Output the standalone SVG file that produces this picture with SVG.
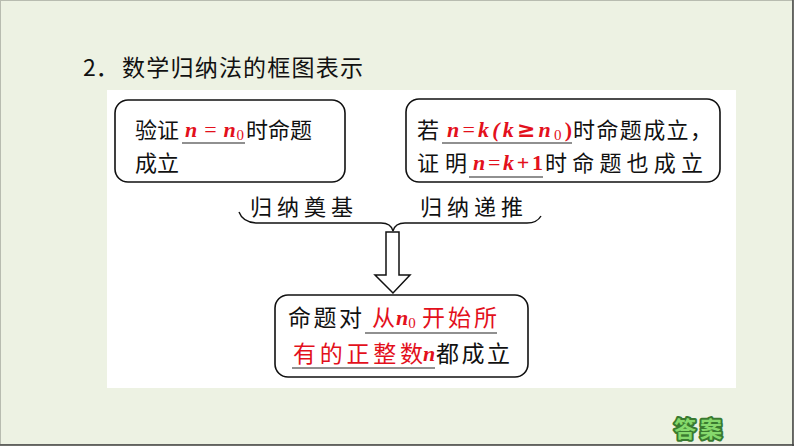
<svg xmlns="http://www.w3.org/2000/svg" width="794" height="446" viewBox="0 0 794 446">
<style>
.cn{font-family:"Noto Sans CJK SC","Noto Sans",sans-serif;fill:#111;}
.m{font-family:"Liberation Serif","DejaVu Serif",serif;font-style:italic;font-weight:bold;fill:#e3101c;}
.r{font-family:"Noto Sans CJK SC",sans-serif;fill:#e3101c;}
.box{fill:#fff;stroke:#111;stroke-width:1.6;}
.ul{stroke:#222;stroke-width:1.2;}
.line{fill:none;stroke:#111;stroke-width:1.4;}
</style>
<rect x="0" y="0" width="794" height="446" fill="#edf2e3"/>
<rect x="0.5" y="0.5" width="792" height="444" fill="none" stroke="#b8bcb0" stroke-width="1"/>
<line x1="0" y1="445" x2="794" y2="445" stroke="#444" stroke-width="1.5"/>
<line x1="793" y1="0" x2="793" y2="446" stroke="#444" stroke-width="1.5"/>
<text x="83" y="76" class="cn" font-size="23">2．</text>
<text x="122" y="76" class="cn" font-size="23" textLength="241">数学归纳法的框图表示</text>
<rect x="107" y="90" width="629" height="298" fill="#fff"/>

<g id="node-basis">
<rect x="115" y="100" width="230" height="82" rx="13" class="box"/>
<text x="135" y="138" class="cn" font-size="22">验证</text>
<text x="185" y="137" class="m" font-size="22" textLength="59">n<tspan font-weight="normal" font-style="normal"> = </tspan>n<tspan font-size="15" dy="3" font-style="normal" font-weight="normal">0</tspan></text>
<line x1="182" y1="143" x2="245" y2="143" class="ul"/>
<text x="246" y="138" class="cn" font-size="22">时命题</text>
<text x="135" y="171" class="cn" font-size="22">成立</text>
</g>

<g id="node-step">
<rect x="406" y="99" width="314" height="83" rx="13" class="box"/>
<text x="417" y="138" class="cn" font-size="22">若</text>
<text x="447" y="137" class="m" font-size="22" textLength="125">n<tspan font-weight="normal" font-style="normal">=</tspan>k(k<tspan font-style="normal" font-family="DejaVu Sans">≥</tspan>n<tspan font-size="15" dy="3" font-style="normal" font-weight="normal">0</tspan><tspan dy="-3" font-style="normal">)</tspan></text>
<line x1="442" y1="143" x2="572" y2="143" class="ul"/>
<text x="573" y="138" class="cn" font-size="22" textLength="139">时命题成立，</text>
<text x="417" y="171" class="cn" font-size="22" textLength="50">证明</text>
<text x="473" y="170" class="m" font-size="22" textLength="70">n<tspan font-weight="normal" font-style="normal">=</tspan>k<tspan font-style="normal">+1</tspan></text>
<line x1="469" y1="177" x2="543" y2="177" class="ul"/>
<text x="545" y="171" class="cn" font-size="22" textLength="158">时命题也成立</text>
</g>

<g id="node-conclusion">
<rect x="275" y="295" width="253" height="82" rx="13" class="box"/>
<text x="288" y="326" class="cn" font-size="23" textLength="74">命题对</text>
<text x="372" y="326" class="r" font-size="23">从</text>
<text x="396" y="325" class="m" font-size="22">n<tspan font-size="15" dy="3" font-style="normal" font-weight="normal">0</tspan></text>
<text x="422" y="326" class="r" font-size="23" textLength="75">开始所</text>
<line x1="365" y1="333" x2="497" y2="333" class="ul"/>
<text x="293" y="362" class="r" font-size="23" textLength="130">有的正整数</text>
<text x="423" y="361" class="m" font-size="22">n</text>
<line x1="292" y1="368" x2="435" y2="368" class="ul"/>
<text x="436" y="362" class="cn" font-size="23" textLength="74">都成立</text>
</g>

<g id="labels">
<text x="250" y="215" class="cn" font-size="22" textLength="103">归纳奠基</text>
<text x="420" y="215" class="cn" font-size="22" textLength="103">归纳递推</text>
</g>

<g id="connectors">
<path d="M239,212 Q243,223 258,223 L381,223 Q391,223 393,231 Q395,223 405,223 L527,223 Q537,223 541,216" class="line"/>
<polygon points="386,232 399,232 399,275 410,275 393,293 375,275 386,275" fill="#fff" stroke="#111" stroke-width="1.5"/>
</g>

<g id="answer-button">
<text x="674" y="437" font-family="Noto Sans CJK SC,sans-serif" font-weight="bold" font-size="22" fill="#86d96c" stroke="#3a7a30" stroke-width="4" paint-order="stroke" stroke-linejoin="round" textLength="48">答案</text>
</g>
</svg>
